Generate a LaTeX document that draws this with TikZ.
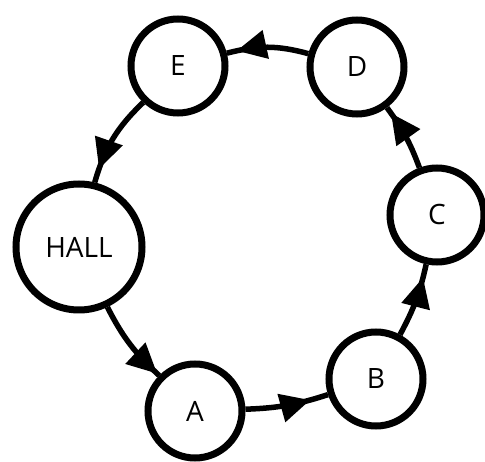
\documentclass[tikz,border=0pt]{standalone}
\usepackage{fontspec}
\setmainfont{Open Sans}
\usetikzlibrary{arrows.meta,decorations.markings}
\tikzset{
	roomA/.style={
		circle, draw, line width=7pt, inner sep=0pt, minimum size=94pt,
		font={\fontsize{28}{32}\selectfont}
	},
	markA/.style={
		line width=5.5pt,
		decoration={markings, mark=at position #1 with {\arrow{Triangle[length=30pt,width=28pt]}}},
		postaction={decorate}
	},
	>=stealth,
}
\begin{document}
\begin{tikzpicture}[
x=1pt, y=1pt,
every edge/.style={draw, bend right=15},
]
\useasboundingbox (0,0) rectangle (485,-462);
\node [roomA, minimum size=126pt] (hall) at (79,-247) {HALL};
\node [roomA] (A) at (195,-411) {A};
\node [roomA] (B) at (376,-379) {B};
\node [roomA] (C) at (437,-215) {C};
\node [roomA] (D) at (357,-67) {D};
\node [roomA] (E) at (178,-66) {E};
%
\path (hall) edge [markA=0.97, bend right=10] (A);
\path (A) edge [markA=0.78, bend right=8] (B);
\path (B) edge [markA=0.82, bend right=8] (C);
\path (C) edge [markA=0.9, bend right=8] (D);
\path (D) edge [markA=0.88] (E);
\path (E) edge [markA=0.85] (hall);
\end{tikzpicture}
\end{document}
